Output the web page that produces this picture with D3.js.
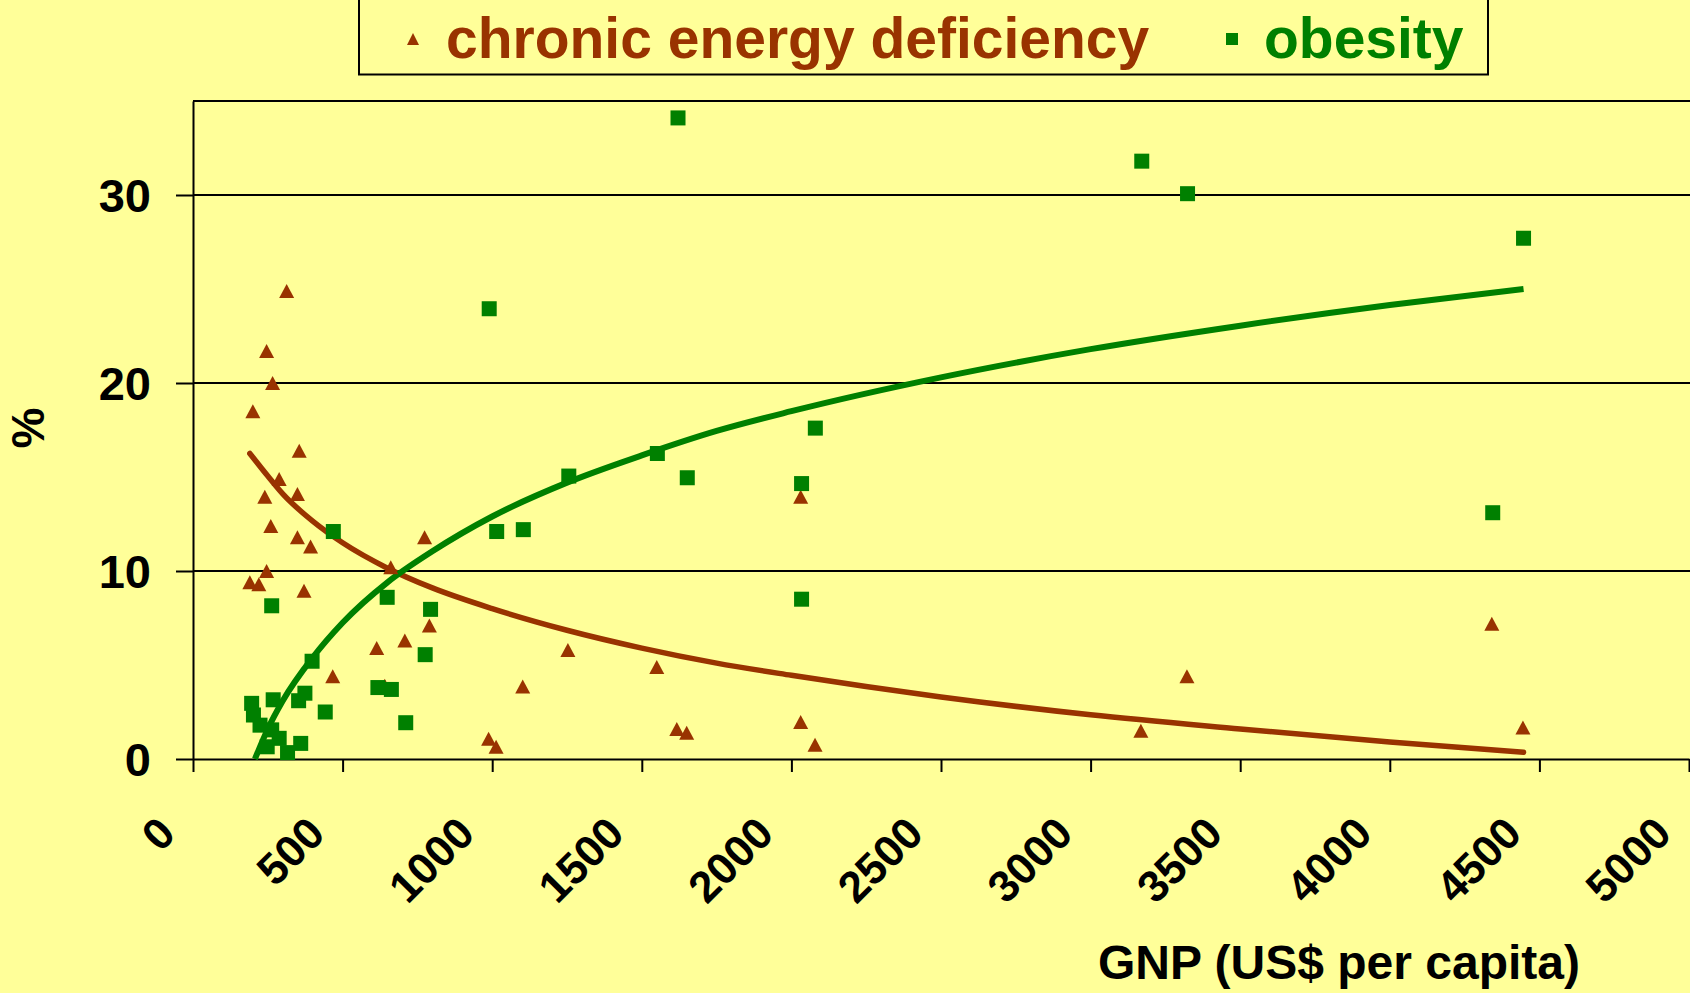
<!DOCTYPE html>
<html>
<head>
<meta charset="utf-8">
<script src="https://cdn.jsdelivr.net/npm/d3@7/dist/d3.min.js"></script>
<style>
  html, body { margin: 0; padding: 0; background: #FFFF99; }
  svg { display: block; }
  text { font-family: "Liberation Sans", Arial, sans-serif; font-weight: bold; }
</style>
</head>
<body>
<svg id="chart" width="1690" height="993"></svg>
<script>
// ---- data ----
const seriesNames = ["chronic energy deficiency", "obesity"];

// chronic energy deficiency: GNP (US$ per capita), %
const cedGNP = [313, 246, 266, 200, 355, 288, 240, 349, 260, 349, 393, 774, 661, 246, 190, 220, 371, 790, 708, 614, 467, 641, 1102, 988, 1013, 1253, 1550, 2031, 2031, 1617, 1650, 2079, 3322, 3168, 4341, 4445];
const cedPct = [24.9, 21.7, 20.0, 18.5, 16.4, 14.9, 13.95, 14.1, 12.4, 11.8, 11.3, 11.8, 10.2, 10.0, 9.4, 9.3, 8.95, 7.1, 6.3, 5.9, 4.4, 3.9, 3.85, 1.08, 0.65, 5.8, 4.9, 13.95, 1.97, 1.6, 1.4, 0.76, 4.4, 1.5, 7.2, 1.67];

// obesity: GNP (US$ per capita), %
const obGNP = [196, 202, 224, 263, 248, 288, 316, 360, 268, 263, 353, 374, 398, 442, 469, 618, 663, 649, 711, 776, 794, 990, 1015, 1104, 1256, 1552, 1621, 1652, 2034, 2034, 2080, 3171, 3324, 4344, 4447];
const obPct = [2.96, 2.34, 1.8, 1.55, 0.65, 1.1, 0.34, 0.83, 3.15, 8.15, 3.1, 3.5, 5.2, 2.5, 12.1, 3.8, 3.7, 8.6, 1.93, 5.55, 7.96, 23.95, 12.1, 12.2, 15.05, 16.25, 34.1, 14.96, 14.65, 8.5, 17.6, 31.8, 30.07, 13.1, 27.7];

// trend lines (logarithmic trend as drawn)
const cedTrendGNP = [190, 250, 300, 400, 500, 650, 800, 1000, 1250, 1500, 1750, 2000, 2500, 3000, 3500, 4000, 4447];
const cedTrendPct = [16.25, 15.05, 14.1, 12.65, 11.5, 10.15, 9.1, 8.0, 6.85, 5.9, 5.1, 4.45, 3.3, 2.35, 1.6, 0.9, 0.36];
const obTrendGNP = [207, 250, 300, 400, 500, 650, 800, 1000, 1250, 1500, 1750, 2000, 2500, 3000, 3500, 4000, 4447];
const obTrendPct = [0.0, 1.6, 3.1, 5.4, 7.25, 9.4, 11.05, 12.9, 14.7, 16.15, 17.45, 18.5, 20.3, 21.8, 23.05, 24.15, 25.0];

// axes
const xTicks = [0, 500, 1000, 1500, 2000, 2500, 3000, 3500, 4000, 4500, 5000];
const yTicks = [0, 10, 20, 30];
const xTitle = "GNP (US$ per capita)";
const yTitle = "%";

// ---- drawing ----
const svg = d3.select("#chart");
const BROWN = "#993300", GREEN = "#008000";

svg.append("rect").attr("width", 1690).attr("height", 993).attr("fill", "#FFFF99");

const x = d3.scaleLinear().domain([0, 5000]).range([193, 1689]);
const y = d3.scaleLinear().domain([0, 35]).range([759, 101]);

// gridlines
svg.append("g").selectAll("line").data(yTicks.filter(d => d > 0)).join("line")
  .attr("x1", x(0)).attr("x2", 1690)
  .attr("y1", d => y(d)).attr("y2", d => y(d))
  .attr("stroke", "#000").attr("stroke-width", 2);

// top border
svg.append("line").attr("x1", x(0)).attr("x2", 1690).attr("y1", y(35)).attr("y2", y(35))
  .attr("stroke", "#000").attr("stroke-width", 2);

// x axis
const xAxis = svg.append("g").attr("transform", `translate(0,${y(0)})`)
  .call(d3.axisBottom(x).tickValues(xTicks).tickSize(13).tickSizeOuter(0).tickFormat(d => String(d)));
xAxis.select(".domain").attr("stroke", "#000").attr("stroke-width", 2);
xAxis.selectAll(".tick line").attr("stroke", "#000").attr("stroke-width", 2);
xAxis.selectAll(".tick text")
  .attr("x", 0).attr("y", 0).attr("dy", null)
  .attr("transform", "translate(-16,77) rotate(-45)")
  .attr("text-anchor", "end")
  .attr("fill", "#000")
  .style("font-size", "44px").style("font-family", "'Liberation Sans', Arial, sans-serif").style("font-weight", "bold");

// y axis
const yAxis = svg.append("g").attr("transform", `translate(${x(0)},0)`)
  .call(d3.axisLeft(y).tickValues(yTicks).tickSize(17).tickSizeOuter(0).tickFormat(d => String(d)));
yAxis.select(".domain").attr("stroke", "#000").attr("stroke-width", 2);
yAxis.selectAll(".tick line").attr("stroke", "#000").attr("stroke-width", 2);
yAxis.selectAll(".tick text")
  .attr("x", -42).attr("dy", "0.36em")
  .attr("text-anchor", "end")
  .attr("fill", "#000")
  .style("font-size", "47px").style("font-family", "'Liberation Sans', Arial, sans-serif").style("font-weight", "bold");

// axis titles
svg.append("text").attr("x", 1339).attr("y", 979).attr("text-anchor", "middle")
  .attr("fill", "#000").style("font-size", "48px").text(xTitle);
svg.append("text").attr("transform", "translate(44,428) rotate(-90)").attr("text-anchor", "middle")
  .attr("fill", "#000").style("font-size", "46px").text(yTitle);

// trend lines
const line = d3.line().x(d => x(d[0])).y(d => y(d[1])).curve(d3.curveMonotoneX);
svg.append("path").datum(cedTrendGNP.map((g, i) => [g, cedTrendPct[i]]))
  .attr("d", line).attr("fill", "none").attr("stroke", BROWN).attr("stroke-width", 5.5)
  .attr("stroke-linecap", "round").attr("stroke-linejoin", "round");
svg.append("path").datum(obTrendGNP.map((g, i) => [g, obTrendPct[i]]))
  .attr("d", line).attr("fill", "none").attr("stroke", GREEN).attr("stroke-width", 6)
  .attr("stroke-linecap", "butt").attr("stroke-linejoin", "round");

// markers
const tri = (cx, cy, hw, h) => `M${cx},${cy - h / 2}L${cx + hw},${cy + h / 2}L${cx - hw},${cy + h / 2}Z`;
svg.append("g").selectAll("path").data(cedGNP.map((g, i) => [g, cedPct[i]])).join("path")
  .attr("d", d => tri(x(d[0]), y(d[1]), 7.5, 14)).attr("fill", BROWN);
svg.append("g").selectAll("rect").data(obGNP.map((g, i) => [g, obPct[i]])).join("rect")
  .attr("x", d => x(d[0]) - 7.5).attr("y", d => y(d[1]) - 7.5).attr("width", 15).attr("height", 15)
  .attr("fill", GREEN);

// legend
const lg = svg.append("g");
lg.append("rect").attr("x", 359).attr("y", -3).attr("width", 1129).attr("height", 77.5)
  .attr("fill", "#FFFF99").attr("stroke", "#000").attr("stroke-width", 2);
lg.append("path").attr("d", tri(413, 39, 6, 12)).attr("fill", BROWN);
lg.append("text").attr("x", 446).attr("y", 58).attr("fill", BROWN).style("font-size", "57px").text(seriesNames[0]);
lg.append("rect").attr("x", 1226).attr("y", 33).attr("width", 12).attr("height", 12).attr("fill", GREEN);
lg.append("text").attr("x", 1264).attr("y", 58).attr("fill", GREEN).style("font-size", "57px").text(seriesNames[1]);
</script>
</body>
</html>
